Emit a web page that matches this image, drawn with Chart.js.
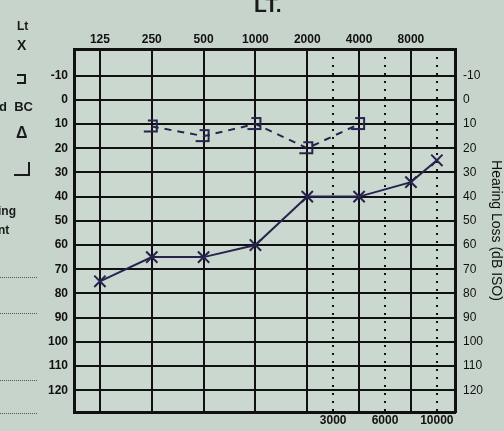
<!DOCTYPE html>
<html>
<head>
<meta charset="utf-8">
<script src="https://cdn.jsdelivr.net/npm/chart.js@4"></script>
<style>
  body { margin: 0; background: #c7d4cb; font-family: "Liberation Sans", Arial, sans-serif; color: #1a1a1a; }
  #wrap { position: relative; width: 504px; height: 431px; overflow: hidden; }
  canvas { position: absolute; left: 0; top: 0; }
  .t { position: absolute; font-weight: bold; white-space: nowrap; }
  .dots { position: absolute; left: 0; width: 37px; border-top: 1px dotted #555; }
  .brk { position: absolute; border: 2px solid #1a1a1a; }
</style>
</head>
<body>
<div id="wrap">
  <canvas id="chart-audio" width="504" height="431"></canvas>
  <div class="t" style="left:254px;top:-7px;font-size:21px;">LT.</div>
  <div class="t" style="left:17px;top:19px;font-size:12px;">Lt</div>
  <div class="t" style="left:17px;top:37px;font-size:14px;">X</div>
  <div class="brk" style="left:17px;top:74px;width:7px;height:6px;border-left:none;"></div>
  <div class="t" style="left:-1px;top:99px;font-size:13px;">d&nbsp; BC</div>
  <div class="t" style="left:16px;top:124px;font-size:16px;">&Delta;</div>
  <div class="brk" style="left:14px;top:162px;width:14px;height:12px;border-left:none;border-top:none;"></div>
  <div class="t" style="left:-2px;top:204px;font-size:12px;">ing</div>
  <div class="t" style="left:-2px;top:223px;font-size:12px;">nt</div>
  <div class="dots" style="top:277px;"></div>
  <div class="dots" style="top:313px;"></div>
  <div class="dots" style="top:380px;"></div>
  <div class="dots" style="top:413px;"></div>
</div>
<script>
// frequencies (octave index on the x axis)
const FREQ_LABELS = ["125", "250", "500", "1000", "2000", "4000", "8000"];
const FREQ_POS = [0, 1, 2, 3, 4, 5, 6];
const MID_LABELS = ["3000", "6000", "10000"];
const MID_POS = [4.5, 5.5, 6.5];
const DB_TICKS = [-10, 0, 10, 20, 30, 40, 50, 60, 70, 80, 90, 100, 110, 120];

// left ear, air conduction (X)
const AC_POS = [0, 1, 2, 3, 4, 5, 6, 6.5];
const AC_DB = [75, 65, 65, 60, 40, 40, 34, 25];

// left ear, masked bone conduction (bracket)
const BC_POS = [1, 2, 3, 4, 5];
const BC_DB = [11, 15, 10, 20, 10];

const INK = "#111";
const PEN = "#26244f";

function bracketIcon() {
  const c = document.createElement("canvas");
  c.width = 18;
  c.height = 16;
  const g = c.getContext("2d");
  g.strokeStyle = PEN;
  g.lineWidth = 2;
  g.beginPath();
  g.moveTo(5, 2);
  g.lineTo(14, 2);
  g.lineTo(14, 13);
  g.lineTo(1, 13);
  g.stroke();
  return c;
}

const fixTicks = (values) => (scale) => {
  scale.ticks = values.map((v) => ({ value: v }));
};

const tickFont = { family: "Liberation Sans", size: 12, weight: "bold" };

const plotBg = {
  id: "plotBg",
  beforeDraw(chart) {
    const { ctx, chartArea: a } = chart;
    ctx.save();
    ctx.fillStyle = "#cbd8cf";
    ctx.fillRect(a.left, a.top, a.right - a.left, a.bottom - a.top);
    ctx.restore();
  },
};

new Chart(document.getElementById("chart-audio"), {
  type: "line",
  data: {
    datasets: [
      {
        label: "AC",
        data: AC_POS.map((x, i) => ({ x, y: AC_DB[i] })),
        borderColor: PEN,
        borderWidth: 2,
        pointStyle: "crossRot",
        pointRadius: 8,
        pointBorderWidth: 2,
        pointBorderColor: PEN,
        tension: 0,
        xAxisID: "x",
        yAxisID: "y",
      },
      {
        label: "BC",
        data: BC_POS.map((x, i) => ({ x, y: BC_DB[i] })),
        borderColor: PEN,
        borderWidth: 2,
        borderDash: [7, 6],
        pointStyle: bracketIcon(),
        tension: 0,
        xAxisID: "x",
        yAxisID: "y",
      },
    ],
  },
  options: {
    responsive: false,
    animation: false,
    devicePixelRatio: 1,
    layout: { padding: 0 },
    plugins: { legend: { display: false }, tooltip: { enabled: false } },
    scales: {
      x: {
        type: "linear",
        position: "top",
        min: -0.5,
        max: 6.85,
        afterBuildTicks: fixTicks(FREQ_POS),
        afterFit: (s) => { s.height = 49; },
        ticks: {
          color: INK,
          font: tickFont,
          padding: 2,
          maxRotation: 0,
          callback: (v) => FREQ_LABELS[FREQ_POS.indexOf(v)],
        },
        grid: { color: INK, lineWidth: 2, drawTicks: false },
        border: { color: INK, width: 3 },
      },
      x2: {
        type: "linear",
        position: "bottom",
        min: -0.5,
        max: 6.85,
        afterBuildTicks: fixTicks(MID_POS),
        afterFit: (s) => { s.height = 19; },
        ticks: {
          color: INK,
          font: tickFont,
          padding: 1,
          maxRotation: 0,
          callback: (v) => MID_LABELS[MID_POS.indexOf(v)],
        },
        grid: { color: INK, lineWidth: 2, drawTicks: false },
        border: { color: INK, width: 3, dash: [2, 6] },
      },
      y: {
        type: "linear",
        position: "left",
        reverse: true,
        min: -21,
        max: 129,
        afterBuildTicks: fixTicks(DB_TICKS),
        afterFit: (s) => { s.width = 74; },
        ticks: { color: INK, font: tickFont, padding: 6 },
        grid: { color: INK, lineWidth: 2, drawTicks: false },
        border: { color: INK, width: 3 },
      },
      y2: {
        type: "linear",
        position: "right",
        reverse: true,
        min: -21,
        max: 129,
        afterBuildTicks: fixTicks(DB_TICKS),
        afterFit: (s) => { s.width = 49; },
        ticks: { color: INK, font: { family: "Liberation Sans", size: 12 }, padding: 8 },
        grid: { display: false, drawTicks: false },
        border: { color: INK, width: 3 },
        title: {
          display: true,
          text: "Hearing Loss (dB ISO)",
          color: INK,
          font: { family: "Liberation Sans", size: 14 },
          padding: 0,
        },
      },
    },
  },
  plugins: [plotBg],
});
</script>
</body>
</html>
